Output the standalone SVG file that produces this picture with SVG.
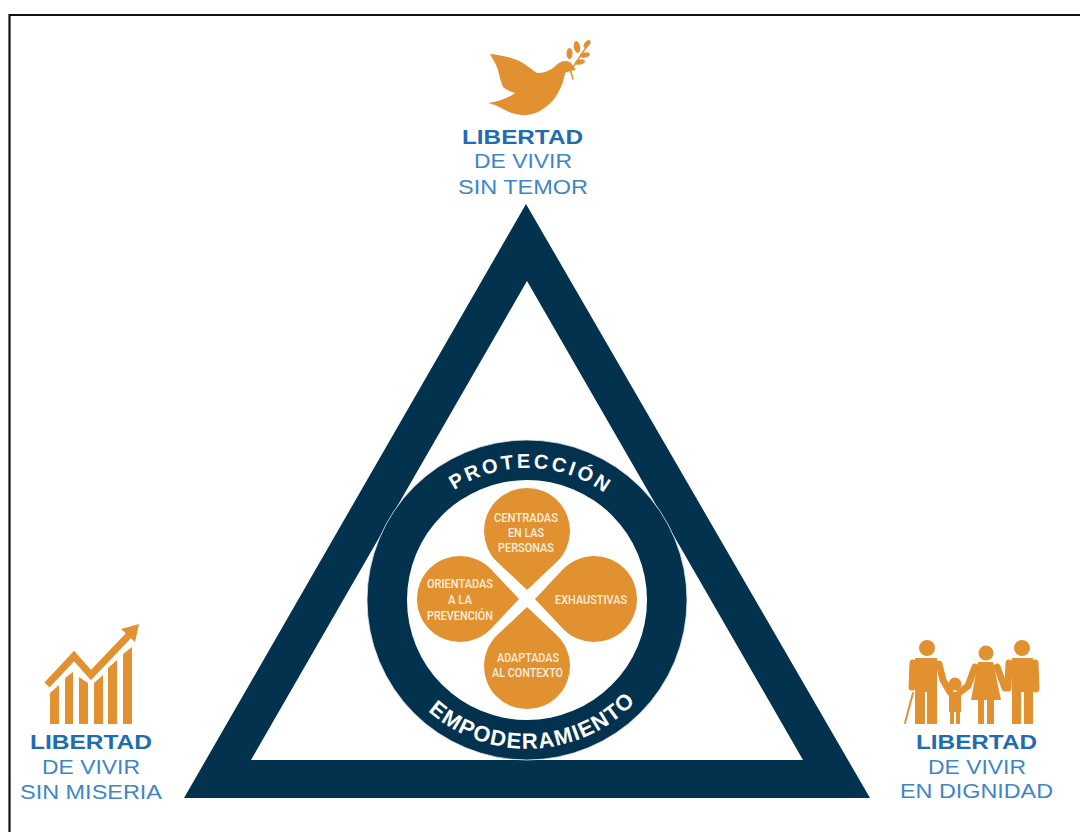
<svg xmlns="http://www.w3.org/2000/svg" width="1080" height="832" viewBox="0 0 1080 832">
<style>
.o{fill:#e29131}
.ol{fill:none;stroke:#e29131;stroke-linecap:round;stroke-linejoin:round}
.h{font:bold 20.5px "Liberation Sans",Arial,sans-serif;fill:#1f6cb0;text-anchor:start}
.s{font:20.5px "Liberation Sans",Arial,sans-serif;fill:#3f86c4;text-anchor:start}
.p{font:500 12.5px "Roboto","Liberation Sans",sans-serif;fill:#f8eedf;text-anchor:start}
.r{font:bold 20px "Liberation Sans",Arial,sans-serif;fill:#fff}
</style>
<defs>
<path id="arcTop" d="M450 493A132 132 0 0 1 610 497" fill="none"/>
<path id="arcBot" d="M428 711A149 149 0 0 0 639 698" fill="none"/>
</defs>
<rect width="1080" height="832" fill="#fff"/>
<path d="M9.500 832V15H1080" fill="none" stroke="#111" stroke-width="2.200"/>
<g id="triangle"><path fill-rule="evenodd" fill="#03324f" d="M526 204L870 798H184ZM527 281L251 760H803Z"/></g>
<g id="ring">
<circle cx="527" cy="600" r="160" fill="#03324f" stroke="#d9e2e8" stroke-width="0.800"/>
<circle cx="527" cy="600" r="120" fill="#fff"/>
<text class="r" letter-spacing="2.900"><textPath href="#arcTop" startOffset="5">PROTECCIÓN</textPath></text>
<text class="r" style="font-size:22px" letter-spacing="1.300"><textPath href="#arcBot">EMPODERAMIENTO</textPath></text>
</g>
<g id="petal-top"><path class="o" d="M527 590L556.400 562.300A43 43 0 1 0 497.600 562.300Z"/>
<text class="p"><tspan x="494" y="521.500" textLength="64" lengthAdjust="spacingAndGlyphs">CENTRADAS</tspan></text>
<text class="p"><tspan x="508" y="537" textLength="36" lengthAdjust="spacingAndGlyphs">EN LAS</tspan></text>
<text class="p"><tspan x="498" y="552" textLength="56" lengthAdjust="spacingAndGlyphs">PERSONAS</tspan></text></g>
<g id="petal-right"><path class="o" d="M535 599L562.700 628.400A43 43 0 1 0 562.700 569.600Z"/>
<text class="p" x="555" y="604" textLength="72" lengthAdjust="spacingAndGlyphs">EXHAUSTIVAS</text></g>
<g id="petal-bottom"><path class="o" d="M527 607L497.600 634.700A43 43 0 1 0 556.400 634.700Z"/>
<text class="p" x="497" y="662" textLength="62" lengthAdjust="spacingAndGlyphs">ADAPTADAS</text>
<text class="p" x="492" y="677" textLength="71" lengthAdjust="spacingAndGlyphs">AL CONTEXTO</text></g>
<g id="petal-left"><path class="o" d="M519 599L491.300 569.600A43 43 0 1 0 491.300 628.400Z"/>
<text class="p" x="427" y="588" textLength="66" lengthAdjust="spacingAndGlyphs">ORIENTADAS</text>
<text class="p" x="448" y="604" textLength="24" lengthAdjust="spacingAndGlyphs">A LA</text>
<text class="p" x="427" y="620" textLength="66" lengthAdjust="spacingAndGlyphs">PREVENCIÓN</text></g>
<g id="freedom-fear">
<path class="o" d="M490 54C500 55 510 57 517 60C526 64 532 70 537 73C543 73 549 71 553 68C557 64 561 61 565 61C569 61 572 63 573 66L576 70L570 71L565 73C564 80 562 85 560 89C557 96 552 102 547 106C540 112 534 114 527 115C518 116 510 113 503 109C498 106 493 104 488 103C498 102 508 98 515 93C509 91 505 89 503 87C500 80 499 73 497 67C495 62 492 58 490 54Z"/>
<path class="ol" d="M570 72C575 64 582 53 590 42M571 72L573 79" stroke-width="1.500"/>
<g class="o"><ellipse cx="577" cy="47" rx="3.200" ry="6" transform="rotate(-10 577 47)"/><ellipse cx="587" cy="44" rx="2.500" ry="4.500" transform="rotate(35 587 44)"/><ellipse cx="569.500" cy="53.500" rx="3" ry="5.500"/><ellipse cx="585" cy="55" rx="5" ry="2.500" transform="rotate(-15 585 55)"/><ellipse cx="580" cy="62" rx="5" ry="2.500" transform="rotate(-15 580 62)"/></g>
<text class="h" x="462" y="144" textLength="121" lengthAdjust="spacingAndGlyphs">LIBERTAD</text><text class="s" x="474" y="168" textLength="98" lengthAdjust="spacingAndGlyphs">DE VIVIR</text><text class="s" x="458" y="194" textLength="130" lengthAdjust="spacingAndGlyphs">SIN TEMOR</text>
</g>
<g id="freedom-want">
<path class="o" d="M50 693L59 685V724H50ZM65 678L73 672V724H65ZM79 677L88 683V724H79ZM94 683L103 675V724H94ZM108 668L117 660V724H108ZM123 654L132 647V724H123Z"/>
<path d="M47 685L74 656L91 675L130 634" fill="none" stroke="#e29131" stroke-width="7"/>
<path class="o" d="M139 624L121 629L135 642Z"/>
<text class="h" x="30" y="749" textLength="122" lengthAdjust="spacingAndGlyphs">LIBERTAD</text><text class="s" x="42" y="774" textLength="98" lengthAdjust="spacingAndGlyphs">DE VIVIR</text><text class="s" x="20" y="799" textLength="142" lengthAdjust="spacingAndGlyphs">SIN MISERIA</text>
</g>
<g id="freedom-dignity">
<g class="o"><circle cx="927" cy="648" r="8"/><circle cx="955" cy="684" r="6.500"/><circle cx="986" cy="653" r="7.500"/><circle cx="1022" cy="648" r="8"/>
<path d="M915 658H937V692H937V724H927V692H925V724H915Z"/>
<path d="M949 692H961V712H960V724H956V712H954V724H950V712H949Z"/>
<path d="M978 662H993L1001 700H994V724H987V700H984V724H978V700H971Z"/>
<path d="M1012 658H1033V692V724H1024V692H1021V724H1012Z"/></g>
<path class="ol" d="M913 663L912 687M939 664L943 680L950 692M960 692L968 686L975 667M997 667L1005 688M1009 663L1008 688M1035 663L1036 689" stroke-width="7"/>
<path class="ol" d="M913 693L905 723" stroke-width="2"/>
<text class="h" x="916" y="749" textLength="121" lengthAdjust="spacingAndGlyphs">LIBERTAD</text><text class="s" x="928" y="774" textLength="98" lengthAdjust="spacingAndGlyphs">DE VIVIR</text><text class="s" x="900" y="798" textLength="153" lengthAdjust="spacingAndGlyphs">EN DIGNIDAD</text>
</g>
</svg>
